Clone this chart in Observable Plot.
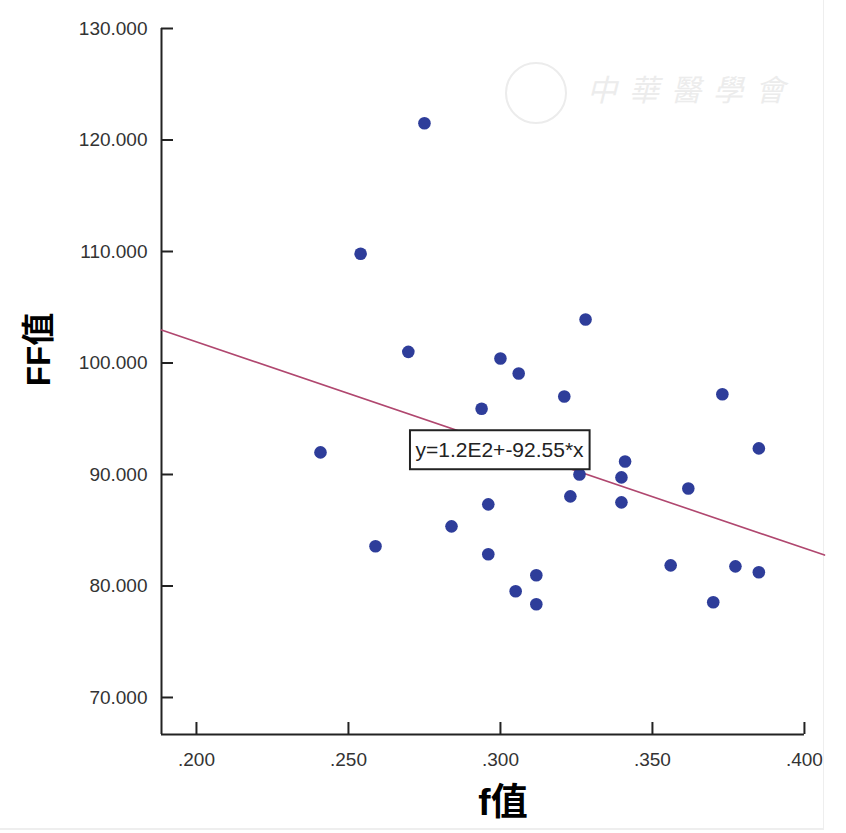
<!DOCTYPE html>
<html>
<head>
<meta charset="utf-8">
<script src="https://cdn.jsdelivr.net/npm/d3@7"></script>
<script src="https://cdn.jsdelivr.net/npm/@observablehq/plot@0.6"></script>
<style>
  html, body { margin: 0; padding: 0; background: #fff; }
  #wrap { position: relative; width: 846px; height: 833px; overflow: hidden; }
  #frame { position: absolute; left: 0; top: 0; width: 823px; height: 828px; border-right: 1px solid #eeeeee; border-bottom: 2px solid #eeeeee; box-sizing: content-box; pointer-events: none; }
  #wm { position: absolute; left: 505px; top: 62px; color: #ececec; font-family: "Noto Sans CJK TC", sans-serif; font-size: 30px; letter-spacing: 12px; font-style: italic; }
  #wm .logo { display: inline-block; width: 58px; height: 58px; border: 2px solid #ececec; border-radius: 50%; vertical-align: middle; margin-right: 20px; }
</style>
</head>
<body>
<div id="wrap">
  <div id="wm"><span class="logo"></span>中華醫學會</div>
  <div id="frame"></div>
</div>
<script>
// f值 (x) and FF值 (y)
const fValues = [0.275, 0.254, 0.2697, 0.300, 0.306, 0.328, 0.321, 0.2938, 0.2408, 0.373,
                 0.385, 0.341, 0.3398, 0.326, 0.3618, 0.323, 0.3398, 0.296, 0.2839, 0.2589,
                 0.296, 0.356, 0.3773, 0.385, 0.3118, 0.305, 0.3118, 0.370];
const ffValues = [121.5, 109.8, 101.0, 100.4, 99.06, 103.9, 97.0, 95.9, 91.98, 97.2,
                  92.34, 91.17, 89.74, 90.0, 88.75, 88.04, 87.5, 87.32, 85.35, 83.56,
                  82.84, 81.85, 81.76, 81.23, 80.96, 79.53, 78.36, 78.54];

const xTicks = [0.200, 0.250, 0.300, 0.350, 0.400];
const yTicks = [70, 80, 90, 100, 110, 120, 130];

const xDomain = [0.1885, 0.4066];
const yDomain = [66.68, 130];

// fitted line y = 1.2E2 + -92.55 * x
const fitIntercept = 120.4;
const fitSlope = -92.55;
const fitLabel = "y=1.2E2+-92.55*x";
const fitLabelPos = {x: 0.2997, y: 92.15};

const points = fValues.map((f, i) => ({f, ff: ffValues[i]}));
const fitLine = xDomain.map(x => ({f: x, ff: fitIntercept + fitSlope * x}));

const fmtX = d => d3.format(".3f")(d).replace(/^0\./, ".");
const fmtY = d => d3.format(".3f")(d);
const blank = () => "";

const chart = Plot.plot({
  width: 846,
  height: 833,
  marginTop: 28,
  marginLeft: 161,
  marginRight: 22,
  marginBottom: 99,
  style: {fontFamily: "'Liberation Sans', Arial, sans-serif", background: "transparent", color: "#222"},
  x: {domain: xDomain},
  y: {domain: yDomain},
  marks: [
    Plot.ruleX([xDomain[0]], {stroke: "#222", strokeWidth: 2}),
    Plot.ruleY([yDomain[0]], {x1: xDomain[0], x2: xTicks[xTicks.length - 1], stroke: "#222", strokeWidth: 2}),
    // labels
    Plot.axisY(yTicks, {anchor: "left", tickSize: 0, tickPadding: 14, tickFormat: fmtY, fontSize: 19, fill: "#333", label: null}),
    Plot.axisX(xTicks, {anchor: "bottom", tickSize: 0, tickPadding: 18, tickFormat: fmtX, fontSize: 19, fill: "#333", label: null}),
    // inward tick marks
    Plot.axisY(yTicks, {anchor: "left", tickSize: 12, dx: 12, tickFormat: blank, strokeWidth: 2, stroke: "#222", label: null}),
    Plot.axisX(xTicks, {anchor: "bottom", tickSize: 12, dy: -12, tickFormat: blank, strokeWidth: 2, stroke: "#222", label: null}),
    Plot.line(fitLine, {x: "f", y: "ff", stroke: "#b0476f", strokeWidth: 1.6}),
    Plot.dot(points, {x: "f", y: "ff", r: 6.3, fill: "#2e3d9a", stroke: "none"}),
    Plot.text([fitLabel], {x: () => fitLabelPos.x, y: () => fitLabelPos.y, text: d => d, fontSize: 21, fill: "#222", className: "fitlabel"}),
    Plot.text(["f值"], {frameAnchor: "bottom", lineAnchor: "middle", dx: 10, dy: 69, fontSize: 37, fontWeight: "bold", fill: "#000", fontFamily: "'Liberation Sans', 'Noto Sans CJK SC', sans-serif"}),
    Plot.text(["FF值"], {frameAnchor: "left", textAnchor: "middle", lineAnchor: "middle", dx: -122, dy: -32, rotate: -90, fontSize: 33, fontWeight: "bold", fill: "#000", fontFamily: "'Liberation Sans', 'Noto Sans CJK SC', sans-serif"})
  ]
});
chart.style.position = "absolute";
chart.style.left = "0px";
chart.style.top = "0px";
document.getElementById("wrap").appendChild(chart);

// white box with black border behind the fit label
const lbl = chart.querySelector(".fitlabel text");
if (lbl) {
  const b = lbl.getBBox();
  const g = lbl.parentNode;
  const rect = document.createElementNS("http://www.w3.org/2000/svg", "rect");
  const padX = 5.5, padY = 9;
  rect.setAttribute("x", b.x - padX);
  rect.setAttribute("y", b.y - padY + 1);
  rect.setAttribute("width", b.width + 2 * padX);
  rect.setAttribute("height", b.height + 2 * padY - 2);
  rect.setAttribute("fill", "#fff");
  rect.setAttribute("stroke", "#222");
  rect.setAttribute("stroke-width", "2");
  const t = lbl.getAttribute("transform");
  if (t) rect.setAttribute("transform", t);
  g.insertBefore(rect, lbl);
}
</script>
</body>
</html>
